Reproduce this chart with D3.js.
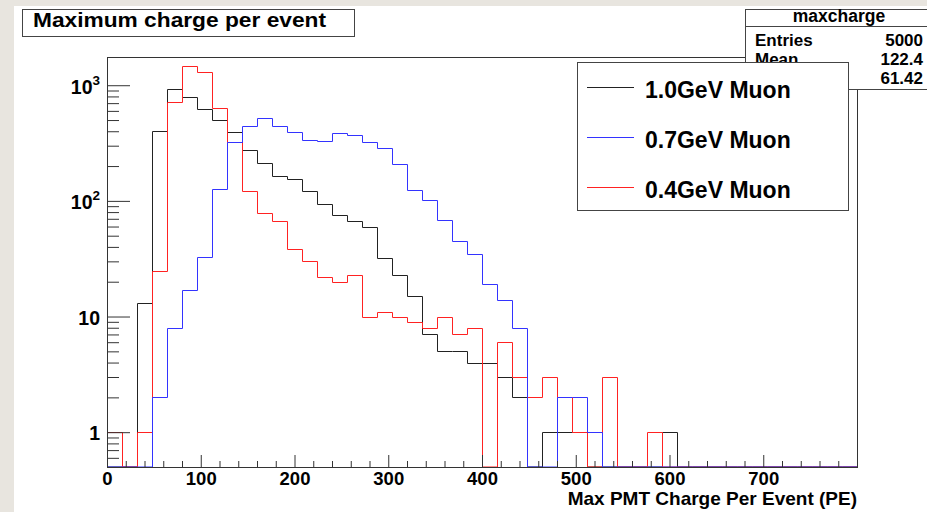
<!DOCTYPE html>
<html>
<head>
<meta charset="utf-8">
<script src="https://cdn.jsdelivr.net/npm/d3@7"></script>
<style>
  body { margin: 0; background: #e8e5df; }
  svg { display: block; font-family: "Liberation Sans", Helvetica, Arial, sans-serif; font-weight: bold; }
</style>
</head>
<body>
<svg id="chart" width="927" height="512"></svg>
<script>
// histogram binning (PE), 50 bins of 16 from 0 to 800
var binStart = 0, binWidth = 16;

// counts per bin
var muon10 = [0, 0, 13, 405, 923, 797, 620, 499, 393, 278, 212, 164, 155, 122, 94, 75, 67, 59, 32, 23,
              15, 7, 5, 5, 4, 4, 3, 2, 0, 1, 1, 1, 0, 0, 0, 0, 0, 1, 0, 0,
              0, 0, 0, 0, 0, 0, 0, 0, 0, 0];
var muon07 = [0, 0, 0, 2, 8, 17, 33, 126, 326, 443, 519, 440, 394, 335, 330, 385, 370, 322, 289, 209,
              125, 101, 68, 45, 35, 19, 14, 8, 0, 0, 2, 2, 1, 0, 0, 0, 0, 0, 0, 0,
              0, 0, 0, 0, 0, 0, 0, 0, 0, 0];
var muon04 = [1, 0, 1, 25, 713, 1459, 1303, 633, 322, 122, 78, 67, 38, 30, 22, 20, 23, 10, 11, 10,
              9, 8, 10, 7, 8, 0, 6, 3, 2, 3, 2, 1, 0, 3, 0, 0, 1, 0, 0, 0,
              0, 0, 0, 0, 0, 0, 0, 0, 0, 0];

var seriesNames = ["1.0GeV Muon", "0.7GeV Muon", "0.4GeV Muon"];
var seriesColors = ["#222", "#3333ff", "#ff2222"];

var xTicks = [0, 100, 200, 300, 400, 500, 600, 700];
var yMajor = [1, 10, 100, 1000];
var yLabels = ["1", "10", "10|2", "10|3"];

var statsTitle = "maxcharge";
var statsRows = [["Entries", "5000"], ["Mean", "122.4"], ["RMS", "61.42"]];

var svg = d3.select("#chart");
var frame = {left: 107, right: 857, top: 57, bottom: 467};

// white pad, grey strip left/top like the canvas
svg.append("rect").attr("x", 14).attr("y", 6).attr("width", 913).attr("height", 506).attr("fill", "#fff");

var x = d3.scaleLinear().domain([0, 800]).range([frame.left, frame.right]);
var y = d3.scaleLog().domain([0.5, 1754]).range([frame.bottom, frame.top]);

svg.append("clipPath").attr("id", "clip")
    .append("rect")
    .attr("x", frame.left).attr("y", frame.top - 1)
    .attr("width", frame.right - frame.left).attr("height", frame.bottom - frame.top + 1);

// histograms as stepped outlines, zero bins drop to the bottom of the frame
var line = d3.line()
    .x(function(d) { return Math.round(x(d.x)) + 0.5; })
    .y(function(d) { return d.v > 0 ? Math.round(y(d.v)) + 0.5 : frame.bottom; });

function steps(counts) {
    var pts = [];
    counts.forEach(function(v, i) {
        var lo = binStart + i * binWidth;
        pts.push({x: lo, v: v});
        pts.push({x: lo + binWidth, v: v});
    });
    return pts;
}

var hists = [muon10, muon04, muon07];
var histColors = [seriesColors[0], seriesColors[2], seriesColors[1]];
hists.forEach(function(h, i) {
    svg.append("path")
        .attr("d", line(steps(h)))
        .attr("fill", "none")
        .attr("stroke", histColors[i])
        .attr("stroke-width", 1)
        .attr("clip-path", "url(#clip)");
});

// x axis: major every 100, minor every 20, ticks point up into the frame
var xMinor = d3.range(0, 801, 20).filter(function(v) { return v % 100 !== 0; });
svg.append("g").attr("transform", "translate(0," + frame.bottom + ")")
    .call(d3.axisBottom(x).tickValues(xMinor).tickSizeInner(-6).tickSizeOuter(0).tickFormat(""))
    .call(function(g) { g.select(".domain").remove(); g.selectAll("line").attr("stroke", "#333"); });
svg.append("g").attr("transform", "translate(0," + frame.bottom + ")")
    .call(d3.axisBottom(x).tickValues(xTicks).tickSizeInner(-12).tickSizeOuter(0).tickPadding(18))
    .call(function(g) {
        g.select(".domain").remove();
        g.selectAll("line").attr("stroke", "#333");
        g.selectAll("text").attr("font-size", 18.5).attr("font-weight", "bold").attr("fill", "#000").attr("dy", "0");
    });

// y axis: log, majors at decades, minors at 2..9
var yMinor = [];
[0.1, 1, 10, 100, 1000].forEach(function(d) {
    for (var k = 2; k <= 9; k++) {
        var v = d * k;
        if (v >= 0.5 && v <= 1754) yMinor.push(v);
    }
});
svg.append("g").attr("transform", "translate(" + frame.left + ",0)")
    .call(d3.axisLeft(y).tickValues(yMinor).tickSizeInner(-12).tickSizeOuter(0).tickFormat(""))
    .call(function(g) { g.select(".domain").remove(); g.selectAll("line").attr("stroke", "#333"); });
svg.append("g").attr("transform", "translate(" + frame.left + ",0)")
    .call(d3.axisLeft(y).tickValues(yMajor).tickSizeInner(-23).tickSizeOuter(0).tickPadding(7)
        .tickFormat(function(d, i) { return yLabels[i]; }))
    .call(function(g) {
        g.select(".domain").remove();
        g.selectAll("line").attr("stroke", "#333");
        g.selectAll("text").each(function() {
            var t = d3.select(this), parts = t.text().split("|");
            t.text(parts[0]).attr("font-size", 19.5).attr("fill", "#000").attr("dy", "0.4em");
            if (parts.length > 1) {
                t.append("tspan").attr("font-size", 13.5).attr("dy", "-0.65em").text(parts[1]);
            }
        });
    });

// frame
svg.append("rect")
    .attr("x", frame.left + 0.5).attr("y", frame.top + 0.5)
    .attr("width", frame.right - frame.left).attr("height", frame.bottom - frame.top)
    .attr("fill", "none").attr("stroke", "#333");

// x title
svg.append("text").attr("x", frame.right).attr("y", 505).attr("text-anchor", "end")
    .attr("font-size", 19).text("Max PMT Charge Per Event (PE)");

// title box
svg.append("rect").attr("x", 22.5).attr("y", 9.5).attr("width", 332).attr("height", 27)
    .attr("fill", "#fff").attr("stroke", "#444");
svg.append("text").attr("x", 33).attr("y", 27).attr("font-size", 20.5)
    .attr("textLength", 293).attr("lengthAdjust", "spacingAndGlyphs")
    .text("Maximum charge per event");

// stats box
var stats = svg.append("g");
stats.append("rect").attr("x", 745.5).attr("y", 9.5).attr("width", 190).attr("height", 80)
    .attr("fill", "#fff").attr("stroke", "#444");
stats.append("line").attr("x1", 745.5).attr("x2", 935).attr("y1", 26.5).attr("y2", 26.5).attr("stroke", "#444");
stats.append("text").attr("x", 839).attr("y", 22).attr("text-anchor", "middle").attr("font-size", 17.5).text(statsTitle);
statsRows.forEach(function(r, i) {
    stats.append("text").attr("x", 755).attr("y", 46 + i * 19).attr("font-size", 17).text(r[0]);
    stats.append("text").attr("x", 923).attr("y", 46 + i * 19).attr("text-anchor", "end").attr("font-size", 17).text(r[1]);
});

// legend (drawn over the stats box, as in the original)
var legend = svg.append("g");
legend.append("rect").attr("x", 577.5).attr("y", 62.5).attr("width", 271).attr("height", 148)
    .attr("fill", "#fff").attr("stroke", "#444");
seriesNames.forEach(function(name, i) {
    var ly = 87.5 + i * 50;
    legend.append("line").attr("x1", 587).attr("x2", 634).attr("y1", ly).attr("y2", ly)
        .attr("stroke", seriesColors[i]).attr("stroke-width", 1);
    legend.append("text").attr("x", 645).attr("y", 98 + i * 50).attr("font-size", 23).text(name);
});
</script>
</body>
</html>
